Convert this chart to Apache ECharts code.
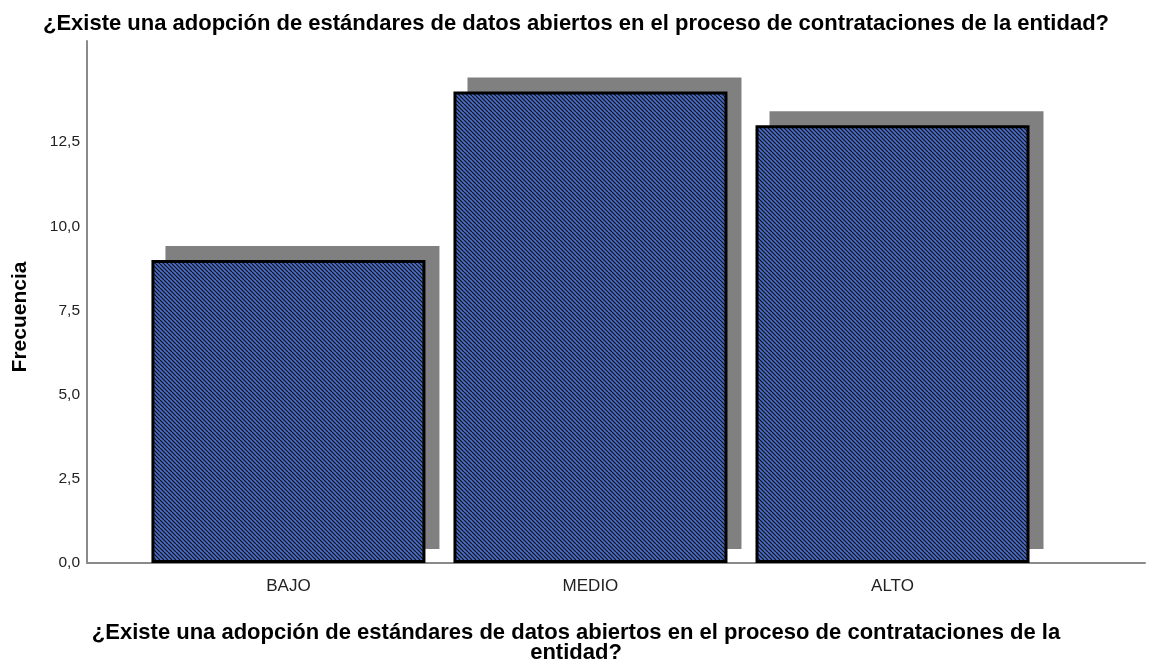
<!DOCTYPE html>
<html lang="es">
<head>
    <meta charset="UTF-8"/>
    <title>adopción de estándares</title>
    <script src="https://cdn.jsdelivr.net/npm/echarts@6/dist/echarts.min.js"></script>
</head>
<body style="margin:0;background:#fff">
<div id="main" style="width:1152px;height:662px"></div>

<script type="text/javascript">
    // datos del gráfico
    var categorias = ['BAJO', 'MEDIO', 'ALTO'];
    var frecuencias = [9, 14, 13];
    var ticksY = [0, 2.5, 5, 7.5, 10, 12.5];
    var pregunta = '¿Existe una adopción de estándares de datos abiertos en el proceso de contrataciones de la entidad?';
    var preguntaEje = '¿Existe una adopción de estándares de datos abiertos en el proceso de contrataciones de la\nentidad?';

    // trama azul con rayas diagonales negras (como SPSS)
    function trama() {
        var c = document.createElement('canvas');
        c.width = 8; c.height = 8;
        var ctx = c.getContext('2d');
        ctx.fillStyle = '#4a6dcc';
        ctx.fillRect(0, 0, 8, 8);
        ctx.strokeStyle = '#121212';
        ctx.lineWidth = 1.2;
        for (var k = -8; k <= 16; k += 4) {
            ctx.beginPath();
            ctx.moveTo(k, 0);
            ctx.lineTo(k + 8, 8);
            ctx.stroke();
        }
        return c;
    }

    var datos = frecuencias.map(function (v, i) { return [i, v]; });

    var ejeX = {
        type: 'value',
        min: -0.667,
        max: 2.836,
        splitLine: { show: false },
        axisTick: { show: false }
    };
    var ejeY = {
        type: 'value',
        min: 0,
        max: 15.5,
        interval: 2.5,
        splitLine: { show: false },
        axisTick: { show: false }
    };

    var myChart = echarts.init(document.getElementById('main'));
    var option = {
        backgroundColor: '#fff',
        animation: false,
        title: {
            text: pregunta,
            left: 'center',
            top: 8,
            textStyle: { fontFamily: 'Liberation Sans', fontSize: 22, fontWeight: 'bold', color: '#000' }
        },
        graphic: [{
            type: 'text',
            left: 'center',
            top: 622,
            style: {
                text: preguntaEje,
                textAlign: 'center',
                font: 'bold 22px "Liberation Sans"',
                lineHeight: 20,
                fill: '#000'
            }
        }],
        grid: [
            { left: 87, right: 7, top: 41, bottom: 99, containLabel: false, outerBoundsMode: 'none' },
            // rejilla desplazada para la sombra
            { left: 101, right: -7, top: 27, bottom: 113, containLabel: false, outerBoundsMode: 'none' }
        ],
        xAxis: [
            Object.assign({}, ejeX, {
                gridIndex: 0,
                axisLine: { show: true, onZero: false, lineStyle: { color: '#8a8a8a', width: 2 } },
                axisLabel: {
                    customValues: [0, 1, 2],
                    formatter: function (v) { return categorias[Math.round(v)]; },
                    fontFamily: 'Liberation Sans',
                    fontSize: 17,
                    color: '#222',
                    margin: 15
                }
            }),
            Object.assign({}, ejeX, { gridIndex: 1, show: false })
        ],
        yAxis: [
            Object.assign({}, ejeY, {
                gridIndex: 0,
                name: 'Frecuencia',
                nameLocation: 'middle',
                nameGap: 56,
                nameTextStyle: {
                    fontFamily: 'Liberation Sans', fontSize: 21, fontWeight: 'bold', color: '#000',
                    padding: [0, 30, 0, 0]
                },
                axisLine: { show: true, onZero: false, lineStyle: { color: '#8a8a8a', width: 2 } },
                axisLabel: {
                    customValues: ticksY,
                    formatter: function (v) { return v.toFixed(1).replace('.', ','); },
                    fontFamily: 'Liberation Sans',
                    fontSize: 15.5,
                    color: '#222',
                    margin: 7
                }
            }),
            Object.assign({}, ejeY, { gridIndex: 1, show: false })
        ],
        series: [{
            type: 'bar',
            name: 'sombra',
            xAxisIndex: 1,
            yAxisIndex: 1,
            data: datos,
            barWidth: 274,
            silent: true,
            z: 1,
            itemStyle: { color: '#808080' }
        }, {
            type: 'bar',
            name: 'Frecuencia',
            xAxisIndex: 0,
            yAxisIndex: 0,
            data: datos,
            barWidth: 274,
            z: 2,
            itemStyle: {
                color: { image: trama(), repeat: 'repeat' },
                borderColor: '#000',
                borderWidth: 3
            }
        }]
    };
    myChart.setOption(option);
</script>
</body>
</html>
